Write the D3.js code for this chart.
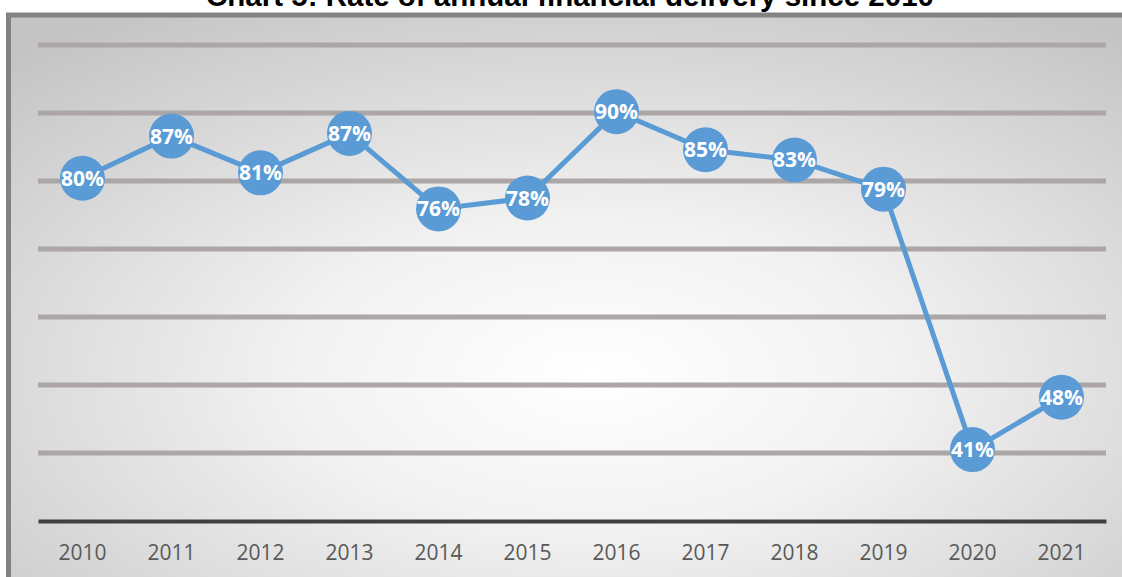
<!DOCTYPE html>
<html><head><meta charset="utf-8">
<script src="https://cdn.jsdelivr.net/npm/d3@7"></script>
<style>body{margin:0;background:#fff;}svg{display:block;}</style>
</head><body>
<svg id="c" width="1122" height="577"></svg>
<script>
const title = "Chart 5: Rate of annual financial delivery since 2010";
const years = ["2010","2011","2012","2013","2014","2015","2016","2017","2018","2019","2020","2021"];
const rates = [80.4,86.6,81.2,87.0,75.9,77.5,90.2,84.6,83.1,78.8,40.5,48.2];
const gridTicks = [40,50,60,70,80,90,100];

const svg = d3.select("#c");
const defs = svg.append("defs");
const rg = defs.append("radialGradient").attr("id","bg")
  .attr("cx","0.52").attr("cy","0.62").attr("r","0.75")
  .attr("gradientUnits","objectBoundingBox");
rg.append("stop").attr("offset","0").attr("stop-color","#ffffff");
rg.append("stop").attr("offset","0.35").attr("stop-color","#f2f2f2");
rg.append("stop").attr("offset","1").attr("stop-color","#c4c4c4");

// frame
svg.append("rect").attr("x",8.5).attr("y",15).attr("width",1125).attr("height",580)
  .attr("fill","url(#bg)").attr("stroke","#828282").attr("stroke-width",5);

svg.append("text").attr("x",570).attr("y",6)
  .attr("text-anchor","middle").attr("font-family","Liberation Sans, Arial, sans-serif")
  .attr("font-weight","bold").attr("font-size",29.5).attr("fill","#000").text(title);

const x = d3.scaleBand().domain(years).range([38,1106]);
const y = d3.scaleLinear().domain([30,100]).range([521,45]);

svg.append("g").selectAll("line").data(gridTicks).join("line")
  .attr("x1",38).attr("x2",1106).attr("y1",d=>y(d)).attr("y2",d=>y(d))
  .attr("stroke","#aca7a6").attr("stroke-width",5);

const xa = svg.append("g").attr("transform",`translate(0,${y(30)})`)
  .call(d3.axisBottom(x).tickSize(0).tickPadding(24));
xa.select(".domain").attr("stroke","#404040").attr("stroke-width",4);
xa.selectAll("text").attr("font-family","Open Sans, sans-serif").attr("font-size",21)
  .attr("fill","#595959");

const cx = d => x(d) + x.bandwidth()/2;
const pts = years.map((yr,i)=>[cx(yr), y(rates[i])]);
svg.append("path").attr("d", d3.line()(pts)).attr("fill","none")
  .attr("stroke","#5b9bd5").attr("stroke-width",5).attr("stroke-linejoin","round");

const g = svg.append("g").selectAll("g").data(years).join("g")
  .attr("transform",(d,i)=>`translate(${cx(d)},${y(rates[i])})`);
g.append("circle").attr("r",22.5).attr("fill","#5b9bd5");
g.append("text").attr("text-anchor","middle").attr("dy","0.36em")
  .attr("font-family","Open Sans, sans-serif").attr("font-weight","bold")
  .attr("font-size",21).attr("fill","#fff").text((d,i)=>Math.round(rates[i])+"%");
</script>
</body></html>
